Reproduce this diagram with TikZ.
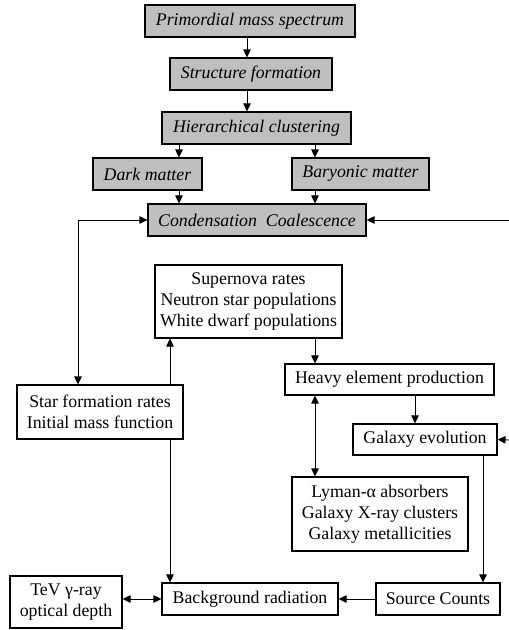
\documentclass[tikz,border=0pt]{standalone}
\usepackage{fontspec}
\setmainfont{Liberation Serif}
\usetikzlibrary{arrows.meta}
\begin{document}
\begin{tikzpicture}[x=1pt,y=-1pt,
  box/.style={draw=black,line width=1.1pt,inner sep=0pt,align=center,font=\fontsize{17.8}{21}\selectfont},
  gbox/.style={box,fill=black!25,font=\fontsize{17.8}{21}\selectfont\itshape},
  conn/.style={line width=0.9pt,-{Triangle[length=8pt,width=7.5pt]}},
  both/.style={line width=0.9pt,{Triangle[length=8pt,width=7.5pt]}-{Triangle[length=8pt,width=7.5pt]}}]
\useasboundingbox (0,0) rectangle (509,630);
\node[gbox,minimum width=210pt,minimum height=32pt] (pms) at (250,21) {Primordial mass spectrum};
\node[gbox,minimum width=162pt,minimum height=32pt] (sf) at (251,74) {Structure formation};
\node[gbox,minimum width=189pt,minimum height=32pt] (hc) at (256.5,128) {Hierarchical clustering};
\node[gbox,minimum width=109pt,minimum height=32pt] (dm) at (147.5,174) {Dark matter};
\node[gbox,minimum width=137pt,minimum height=32pt] (bm) at (360.5,174) {Baryonic matter};
\node[gbox,minimum width=218pt,minimum height=32pt] (cc) at (257,220) {Condensation\ \ Coalescence};
\node[box,minimum width=187pt,minimum height=73pt] (sn) at (248.5,301.5) {Supernova rates\\Neutron star populations\\White dwarf populations};
\node[box,minimum width=166pt,minimum height=54pt] (sfr) at (100,412) {Star formation rates\\Initial mass function};
\node[box,minimum width=209pt,minimum height=31pt] (he) at (389.5,379.5) {Heavy element production};
\node[box,minimum width=144pt,minimum height=31pt] (ge) at (425,439.5) {Galaxy evolution};
\node[box,minimum width=176pt,minimum height=74pt] (ly) at (380,514) {Lyman-α absorbers\\Galaxy X-ray clusters\\Galaxy metallicities};
\node[box,minimum width=112pt,minimum height=52pt] (tev) at (66,602) {TeV γ-ray\\optical depth};
\node[box,minimum width=176pt,minimum height=32pt] (bg) at (250,599) {Background radiation};
\node[box,minimum width=124pt,minimum height=32pt] (sc) at (438,599) {Source Counts};
\coordinate (r1) at (509,220);
\coordinate (r2) at (509,440);
\coordinate (lc) at (78,220);
% top chain
\draw[conn] (pms.south -| 247,0) -- (sf.north -| 247,0);
\draw[conn] (sf.south -| 247,0) -- (hc.north -| 247,0);
\draw[conn] (hc.south -| 179,0) -- (dm.north -| 179,0);
\draw[conn] (hc.south -| 315,0) -- (bm.north -| 315,0);
\draw[conn] (dm.south -| 179,0) -- (cc.north -| 179,0);
\draw[conn] (bm.south -| 315,0) -- (cc.north -| 315,0);
% left loop
\draw[both] (cc.west) -- (lc) -- (sfr.north -| lc);
\draw[conn] (sfr.north -| 170,0) -- (sn.south -| 170,0);
\draw[conn] (sfr.south -| 170,0) -- (bg.north -| 170,0);
% right side
\draw[conn] (sn.south -| 315,0) -- (he.north -| 315,0);
\draw[both] (he.south -| 315,0) -- (ly.north -| 315,0);
\draw[conn] (he.south -| 415,0) -- (ge.north -| 415,0);
\draw[conn] (ge.south -| 483,0) -- (sc.north -| 483,0);
\draw[conn] (sc.west) -- (bg.east);
\draw[both] (tev.east |- bg.west) -- (bg.west);
\draw[conn] (r1) -- (cc.east);
\draw[conn] (r2) -- (ge.east);
\end{tikzpicture}
\end{document}
